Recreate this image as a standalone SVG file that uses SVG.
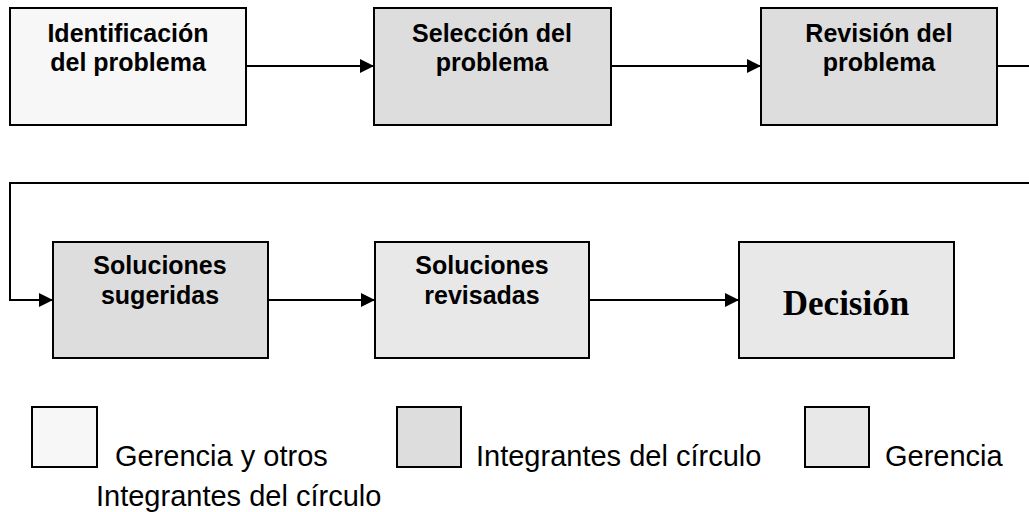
<svg xmlns="http://www.w3.org/2000/svg" width="1029" height="512" viewBox="0 0 1029 512">
<style>
.box{stroke:#000;stroke-width:2}
.c1{fill:#f7f7f7}
.c2{fill:#dddddd}
.c3{fill:#e8e8e8}
.lbl{font-family:"Liberation Sans",Arial,sans-serif;font-weight:bold;font-size:25px;text-anchor:middle;fill:#000}
.dec{font-family:"Liberation Serif","Times New Roman",serif;font-weight:bold;font-size:35px;text-anchor:middle;fill:#000}
.leg{font-family:"Liberation Sans",Arial,sans-serif;font-size:29px;fill:#000}
.conn{fill:none;stroke:#000;stroke-width:2}
</style>
<defs>
<marker id="arr" markerWidth="14" markerHeight="14" refX="14" refY="7" orient="auto" markerUnits="userSpaceOnUse">
<path d="M0,0 L14,7 L0,14 Z" fill="#000"/>
</marker>
</defs>
<rect width="1029" height="512" fill="#fff"/>
<g id="connectors">
<line class="conn" x1="246" y1="66" x2="374" y2="66" marker-end="url(#arr)"/>
<line class="conn" x1="611" y1="66" x2="761" y2="66" marker-end="url(#arr)"/>
<line class="conn" x1="997" y1="66" x2="1030" y2="66"/>
<polyline class="conn" points="1030,183 10,183 10,300 53,300" marker-end="url(#arr)"/>
<line class="conn" x1="268" y1="300" x2="375" y2="300" marker-end="url(#arr)"/>
<line class="conn" x1="589" y1="300" x2="739" y2="300" marker-end="url(#arr)"/>
</g>
<g id="n1">
<rect class="box c1" x="10" y="8" width="236" height="117"/>
<text class="lbl" x="128" y="42">Identificación</text>
<text class="lbl" x="128" y="71">del problema</text>
</g>
<g id="n2">
<rect class="box c2" x="374" y="8" width="237" height="117"/>
<text class="lbl" x="492" y="42">Selección del</text>
<text class="lbl" x="492" y="71">problema</text>
</g>
<g id="n3">
<rect class="box c2" x="761" y="8" width="236" height="117"/>
<text class="lbl" x="879" y="42">Revisión del</text>
<text class="lbl" x="879" y="71">problema</text>
</g>
<g id="n4">
<rect class="box c2" x="53" y="242" width="215" height="116"/>
<text class="lbl" x="160" y="274">Soluciones</text>
<text class="lbl" x="160" y="304">sugeridas</text>
</g>
<g id="n5">
<rect class="box c3" x="375" y="242" width="214" height="116"/>
<text class="lbl" x="482" y="274">Soluciones</text>
<text class="lbl" x="482" y="304">revisadas</text>
</g>
<g id="n6">
<rect class="box c3" x="739" y="242" width="215" height="116"/>
<text class="dec" x="846" y="315">Decisión</text>
</g>
<g id="legend">
<rect class="box c1" x="32" y="407" width="65" height="60"/>
<text class="leg" x="115" y="466">Gerencia y otros</text>
<text class="leg" x="96" y="506">Integrantes del círculo</text>
<rect class="box c2" x="397" y="407" width="64" height="60"/>
<text class="leg" x="476" y="466">Integrantes del círculo</text>
<rect class="box c3" x="805" y="407" width="64" height="60"/>
<text class="leg" x="885" y="466">Gerencia</text>
</g>
</svg>
